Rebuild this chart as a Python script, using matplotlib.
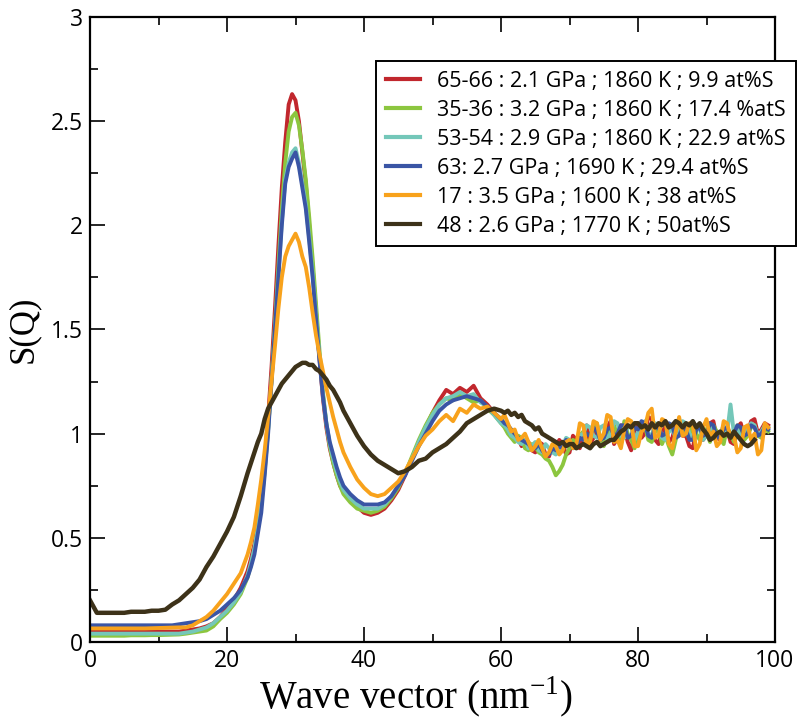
import matplotlib
matplotlib.use("Agg")
import matplotlib.pyplot as plt
import numpy as np

# Wave vector grid (nm^-1): coarse at low Q, finer across the peak and tail
q_low = [float(i) for i in range(0, 24)]
q_peak = [23.5 + 0.5 * i for i in range(28)]
q_mid = [float(i) for i in range(38, 61)]
q_tail = [60.5 + 0.5 * i for i in range(78)]
Q = np.array(q_low + q_peak + q_mid + q_tail)

labels = [
    "65-66 : 2.1 GPa ; 1860 K ; 9.9 at%S",
    "35-36 : 3.2 GPa ; 1860 K ; 17.4 %atS",
    "53-54 : 2.9 GPa ; 1860 K ; 22.9 at%S",
    "63: 2.7 GPa ; 1690 K ; 29.4 at%S",
    "17 : 3.5 GPa ; 1600 K ; 38 at%S",
    "48 : 2.6 GPa ; 1770 K ; 50at%S",
]
colors = ["#c1272d", "#8cc63f", "#74c7b9", "#3a55a5", "#f8a21c", "#3d3219"]

s_red = [
    .05, .05, .05, .05, .05, .05, .05, .05, .05, .05, .05, .05, .05, .05,
    .055, .06, .065, .075, .09, .12, .16, .20, .26, .34,
    .40, .47, .57, .70, .87, 1.08, 1.32, 1.6, 1.9, 2.18, 2.4, 2.58, 2.63, 2.6,
    2.5, 2.35, 2.2, 2.0, 1.8, 1.58, 1.36, 1.17, 1.03, .93, .86, .80, .75, .72,
    .68, .65, .62, .61, .62, .64, .68, .73, .80, .88, .96, 1.03, 1.10, 1.16,
    1.21, 1.19, 1.22, 1.20, 1.23, 1.17, 1.14, 1.10, 1.06,
    1.04, 1.01, 1.0, .97, .98, .94, .97, .96,
    .92, .91, .96, .95, .90, .89, .94, .93,
    .97, .95, .90, .91, .99, .97, .93, 1.0,
    1.04, .95, .98, 1.03, .97, .99, 1.03, 1.06,
    .95, .98, 1.04, 1.02, .96, .92, 1.0, 1.05,
    .98, 1.0, 1.08, 1.07, .97, .95, 1.01, 1.03,
    .96, .98, 1.04, 1.06, .99, .99, .94, .93,
    1.02, 1.04, .97, 1.0, 1.05, 1.06, .98, .97,
    1.03, 1.02, .96, .95, 1.03, 1.05, .99, 1.0,
    1.06, 1.07, 1.0, 1.02, 1.05, 1.04,
]
s_green = [
    .03, .03, .03, .03, .03, .03, .032, .032, .032, .033, .033, .034, .035,
    .036, .04, .045, .05, .055, .075, .11, .14, .18, .23, .31,
    .37, .44, .54, .66, .82, 1.02, 1.26, 1.52, 1.8, 2.08, 2.3, 2.45, 2.52,
    2.54, 2.48, 2.36, 2.22, 2.04, 1.84, 1.62, 1.4, 1.2, 1.05, .94, .86, .80,
    .75, .71,
    .67, .64, .63, .62, .63, .65, .69, .74, .81, .89, .97, 1.04, 1.10, 1.14,
    1.17, 1.16, 1.19, 1.17, 1.15, 1.16, 1.12, 1.09, 1.05,
    1.03, 1.0, .98, .96, .99, .98, .93, .92,
    .95, .94, .91, .90, .88, .87, .84, .80,
    .82, .85, .90, .93, .97, .96, .99, 1.01,
    .95, .97, 1.03, 1.05, .98, .94, .99, 1.02,
    1.04, .99, .95, 1.06, 1.0, .97, .93, 1.0,
    1.03, 1.04, .97, .96, 1.01, 1.02, .95, .99,
    .94, .90, .97, 1.03, 1.05, 1.0, .98, 1.05,
    1.0, .97, 1.03, 1.01, .96, 1.04, 1.01, .98,
    .95, 1.03, 1.0, .96, 1.04, 1.02, .97, .99,
    1.03, 1.04, .99, .98, 1.02, 1.01,
]
s_teal = [
    .04, .04, .04, .04, .04, .04, .04, .04, .04, .04, .04, .04, .04, .04,
    .045, .05, .06, .07, .09, .12, .15, .19, .24, .32,
    .38, .45, .55, .67, .83, 1.02, 1.26, 1.5, 1.76, 2.02, 2.22, 2.3, 2.35,
    2.37, 2.3, 2.2, 2.1, 1.94, 1.77, 1.57, 1.37, 1.19, 1.05, .95, .88, .82,
    .77, .73,
    .69, .66, .64, .64, .64, .66, .70, .75, .81, .88, .96, 1.03, 1.09, 1.14,
    1.17, 1.18, 1.20, 1.18, 1.19, 1.15, 1.13, 1.09, 1.05,
    1.04, 1.02, .99, .98, .96, .95, .97, .93,
    .94, .96, .92, .91, .95, .93, .91, .90,
    .92, .94, .98, .97, .93, .95, .99, 1.0,
    1.04, 1.03, .99, .98, 1.03, 1.04, .97, 1.0,
    1.06, 1.05, .99, .98, 1.04, 1.03, .97, 1.01,
    1.04, 1.06, 1.0, .99, 1.05, 1.04, .98, .97,
    1.01, 1.02, .98, 1.0, 1.06, 1.05, 1.0, .98,
    1.04, 1.02, .97, .99, 1.02, 1.03, .98, 1.0,
    1.04, 1.0, 1.14, 1.0, 1.02, .98, 1.03, 1.0,
    1.05, 1.04, .99, 1.01, 1.04, 1.03,
]
s_blue = [
    .08, .08, .08, .08, .08, .08, .08, .08, .08, .08, .08, .08, .08, .085,
    .09, .095, .10, .11, .13, .15, .18, .21, .25, .31,
    .36, .42, .52, .62, .80, 1.0, 1.25, 1.5, 1.75, 2.0, 2.2, 2.28, 2.32, 2.35,
    2.28, 2.18, 2.08, 1.92, 1.75, 1.55, 1.35, 1.18, 1.05, .96, .90, .84, .79,
    .75,
    .71, .68, .66, .66, .66, .67, .70, .75, .80, .87, .94, 1.0, 1.06, 1.11,
    1.14, 1.16, 1.17, 1.18, 1.17, 1.16, 1.13, 1.10, 1.07,
    1.05, 1.04, 1.02, 1.0, .98, .97, .96, .95,
    .93, .93, .95, .92, .90, .90, .93, .92,
    .94, .93, .97, .96, .93, .94, .98, .97,
    1.0, .99, 1.03, 1.01, .97, .98, 1.02, 1.03,
    .99, 1.0, 1.04, 1.04, .98, .99, 1.03, 1.02,
    1.06, 1.05, .99, .98, 1.03, 1.03, .99, 1.0,
    1.05, 1.04, .98, .99, 1.03, 1.02, .97, .97,
    1.02, 1.03, .99, 1.0, 1.05, 1.04, .98, .99,
    1.02, 1.03, .99, 1.0, 1.04, 1.03, .99, 1.0,
    1.04, 1.03, .99, 1.0, 1.03, 1.02,
]
s_orange = [
    .065, .065, .065, .065, .065, .065, .065, .065, .065, .066, .067, .068,
    .069, .07, .07, .08, .10, .12, .15, .19, .23, .28, .33, .42,
    .48, .55, .66, .78, .92, 1.08, 1.25, 1.42, 1.6, 1.75, 1.85, 1.9, 1.93,
    1.96, 1.92, 1.85, 1.8, 1.7, 1.58, 1.47, 1.38, 1.3, 1.22, 1.15, 1.08, 1.02,
    .96, .91,
    .84, .78, .74, .71, .70, .71, .74, .77, .82, .88, .94, .99, 1.02, 1.06,
    1.09, 1.06, 1.12, 1.10, 1.14, 1.12, 1.13, 1.10, 1.07,
    1.09, 1.05, 1.01, 1.02, .97, .98, 1.0, .96,
    .92, .94, .97, .93, .89, .91, .95, .94,
    .90, .92, .96, .97, .93, .95, 1.05, 1.04,
    .94, .96, 1.06, 1.05, .97, 1.0, 1.09, 1.08,
    .96, .97, .93, 1.02, 1.07, 1.06, .94, .94,
    1.01, 1.03, 1.10, 1.12, .98, .99, 1.07, 1.06,
    .95, .93, 1.01, 1.08, .99, 1.0, 1.05, 1.04,
    .92, .95, 1.03, 1.07, .98, 1.01, .94, .96,
    1.06, 1.05, .98, .99, .91, .93, 1.03, 1.04,
    .97, 1.0, .90, .92, 1.05, 1.03,
]
s_dark = [
    .20, .14, .14, .14, .14, .14, .145, .145, .145, .15, .15, .155, .18, .20,
    .23, .26, .30, .36, .41, .47, .53, .60, .70, .81,
    .86, .91, .96, 1.0, 1.07, 1.12, 1.15, 1.18, 1.21, 1.24, 1.26, 1.28, 1.30,
    1.32, 1.33, 1.34, 1.34, 1.33, 1.33, 1.31, 1.30, 1.28, 1.26, 1.23, 1.21,
    1.18, 1.15, 1.11,
    1.05, .99, .94, .90, .87, .85, .83, .81, .82, .84, .87, .88, .91, .93,
    .95, .98, 1.01, 1.05, 1.07, 1.09, 1.11, 1.12, 1.11,
    1.10, 1.11, 1.09, 1.10, 1.08, 1.09, 1.06, 1.05,
    1.04, 1.02, 1.03, 1.0, .99, .98, .97, .96,
    .95, .96, .94, .95, .95, .93, .94, .95,
    .94, .93, .95, .96, .94, .95, .96, .97,
    .97, .99, 1.01, 1.02, 1.04, 1.03, 1.05, 1.05,
    1.03, 1.04, 1.02, 1.05, 1.03, 1.05, 1.04, 1.06,
    1.03, 1.04, 1.06, 1.05, 1.03, 1.05, 1.04, 1.06,
    1.03, 1.05, 1.02, 1.0, .97, .98, 1.0, 1.01,
    .99, 1.0, .98, 1.01, .99, .97, .95, .94,
    .95, .97,
]

series = [s_red, s_green, s_teal, s_blue, s_orange, s_dark]
widths = [2.8, 2.8, 2.8, 2.8, 2.8, 3.2]

fig = plt.figure(figsize=(8.0, 7.21), dpi=100)
ax = fig.add_axes([0.1125, 0.1096, 0.8563, 0.8668])

for vals, col, lab, w in zip(series, colors, labels, widths):
    ax.plot(Q[:len(vals)], vals, color=col, lw=w, label=lab,
            solid_joinstyle="round")

ax.set_xlim(0, 100)
ax.set_ylim(0, 3)
ax.set_xticks([0, 20, 40, 60, 80, 100])
ax.set_xticks(np.arange(10, 100, 20), minor=True)
ax.set_yticks([0, 0.5, 1, 1.5, 2, 2.5, 3])
ax.set_yticklabels(["0", "0.5", "1", "1.5", "2", "2.5", "3"])
ax.set_yticks(np.arange(0.25, 3, 0.5), minor=True)
ax.tick_params(which="both", direction="in", top=True, right=True,
               width=1.2, labelsize=16.5, pad=5)
ax.tick_params(which="major", length=11)
ax.tick_params(which="minor", length=6)
for lbl in ax.get_xticklabels() + ax.get_yticklabels():
    lbl.set_family("Open Sans")
for sp in ax.spines.values():
    sp.set_linewidth(1.6)

ax.set_xlabel("Wave vector (nm$^{\\mathregular{-1}}$)", family="Liberation Serif",
              fontsize=28)
ax.xaxis.set_label_coords(0.476, -0.052)
ax.set_ylabel("S(Q)", family="Liberation Serif", fontsize=25, labelpad=8)

leg = ax.legend(loc="upper left", bbox_to_anchor=(0.47, 0.915),
                bbox_transform=fig.transFigure, borderaxespad=0,
                frameon=True, fancybox=False, edgecolor="black",
                framealpha=1, handlelength=1.6, handletextpad=0.8,
                labelspacing=0.37, borderpad=0.45,
                prop={"family": "Open Sans", "size": 15.5})
leg.get_frame().set_linewidth(1.4)
leg.set_zorder(5)
for h in leg.get_lines():
    h.set_linewidth(3)

fig.savefig("out.png", dpi=100)
